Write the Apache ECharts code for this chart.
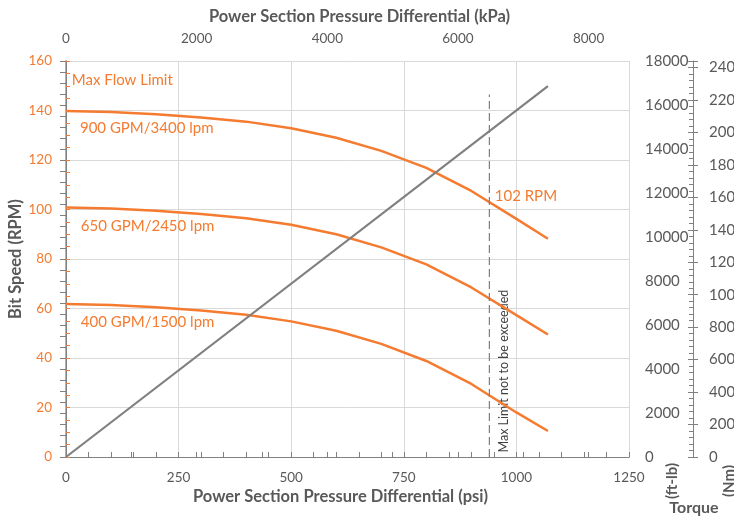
<!DOCTYPE html>
<html><head><meta charset="utf-8">
<script src="https://cdn.jsdelivr.net/npm/echarts@6/dist/echarts.min.js"></script>
<style>html,body{margin:0;padding:0;background:#fff}#c{width:734px;height:519px}</style>
</head><body><div id="c"></div>
<script>
// ---- data ----
const psi = [0,100,200,300,400,500,600,700,800,900,1000,1070];
const rpm900 = [139.8,139.4,138.5,137.2,135.5,132.8,129.0,123.7,116.8,107.5,96.2,88.2];
const rpm650 = [100.8,100.4,99.5,98.2,96.5,93.8,90.0,84.7,77.8,68.5,57.3,49.5];
const rpm400 = [61.8,61.4,60.5,59.2,57.5,54.8,51.0,45.7,38.8,29.5,18.0,10.5];
const torquePsi = [0,1070];
const torqueFtlb = [0,16860];
const maxLimitPsi = [940,940];
const maxLimitRpm = [0,146.5];
const curveNames = ['900 GPM/3400 lpm','650 GPM/2450 lpm','400 GPM/1500 lpm'];
const noteTexts = ['Max Flow Limit','900 GPM/3400 lpm','650 GPM/2450 lpm','400 GPM/1500 lpm','102 RPM'];
const noteAnchors = [[13,152.3],[31,132.9],[33,93.3],[33,54.5],[952,105.5]]; // psi, rpm
const limitText = 'Max Limit not to be exceeded';
const limitAnchor = [972,34.7];
const psiMax = 1250, rpmMax = 160, ftlbMax = 18000;
const KPA_PER_PSI = 6.894757, NM_PER_FTLB = 1.355818;

// ---- style ----
const ORANGE = '#F47B30', GRAY = '#808080', TXT = '#595959', GRID = '#d9d9d9';
const FONT = 'Lato';
const zip = (a,b) => a.map((v,i)=>[v,b[i]]);
const onStep = s => v => (Math.abs(v/s - Math.round(v/s)) < 1e-6 ? String(Math.round(v)) : '');
const plain = v => String(v);

const chart = echarts.init(document.getElementById('c'), null, {renderer:'canvas'});
const axLine = {show:true, lineStyle:{color:GRAY, width:1}};
const option = {
  animation:false,
  backgroundColor:'#fff',
  grid:{left:66, right:105, top:61, bottom:62, containLabel:false, outerBoundsMode:'none'},
  xAxis:[
    {type:'value', position:'bottom', min:0, max:psiMax, interval:250,
     name:'Power Section Pressure Differential (psi)', nameLocation:'middle', nameGap:31, nameMoveOverlap:false,
     nameTextStyle:{fontFamily:FONT, fontWeight:'bold', fontSize:16.5, color:TXT, padding:[0,14,0,0]},
     axisLine:axLine, axisTick:{show:true, inside:true, length:5, lineStyle:{color:GRAY}},
     minorTick:{show:true, splitNumber:5, length:5, lineStyle:{color:GRAY}},
     axisLabel:{fontFamily:FONT, fontSize:13.5, color:TXT, margin:14, formatter:plain},
     splitLine:{show:true, lineStyle:{color:GRID}}},
    {type:'value', position:'top', min:0, max:psiMax*KPA_PER_PSI, interval:2000,
     name:'Power Section Pressure Differential (kPa)', nameLocation:'middle', nameGap:36, nameMoveOverlap:false,
     nameTextStyle:{fontFamily:FONT, fontWeight:'bold', fontSize:16.5, color:TXT, padding:[0,0,0,24]},
     axisLine:axLine, axisTick:{show:true, inside:false, length:5, lineStyle:{color:GRAY}},
     minorTick:{show:true, splitNumber:2, length:5, lineStyle:{color:GRAY}},
     axisLabel:{fontFamily:FONT, fontSize:13.5, color:TXT, margin:15, formatter:onStep(2000)},
     splitLine:{show:false}}
  ],
  yAxis:[
    {type:'value', position:'left', min:0, max:rpmMax, interval:20,
     name:'Bit Speed (RPM)', nameLocation:'middle', nameGap:42, nameMoveOverlap:false,
     nameTextStyle:{fontFamily:FONT, fontWeight:'bold', fontSize:16.5, color:TXT},
     axisLine:{show:true, lineStyle:{color:ORANGE, width:1.5}},
     axisTick:{show:true, inside:true, length:4, lineStyle:{color:ORANGE}},
     minorTick:{show:true, splitNumber:4, length:4, lineStyle:{color:ORANGE}},
     axisLabel:{fontFamily:FONT, fontSize:13.5, color:ORANGE, margin:14, formatter:plain},
     splitLine:{show:true, lineStyle:{color:GRID}}},
    {type:'value', position:'right', min:0, max:ftlbMax, interval:2000,
     axisLine:axLine, axisTick:{show:true, inside:true, length:6, lineStyle:{color:GRAY}},
     minorTick:{show:true, splitNumber:4, length:6, lineStyle:{color:GRAY}},
     axisLabel:{fontFamily:FONT, fontSize:15, color:TXT, margin:16, formatter:plain},
     splitLine:{show:false}},
    {type:'value', position:'right', offset:64, min:0, max:ftlbMax*NM_PER_FTLB, interval:2000,
     axisLine:axLine, axisTick:{show:true, inside:true, length:5, lineStyle:{color:GRAY}},
     minorTick:{show:true, splitNumber:5, length:4, lineStyle:{color:GRAY}},
     axisLabel:{fontFamily:FONT, fontSize:15, color:TXT, margin:16, formatter:onStep(2000)},
     splitLine:{show:false}},
    {type:'value', position:'right', offset:64, min:0, max:ftlbMax*NM_PER_FTLB, interval:2000,
     axisLine:{show:false}, axisTick:{show:true, inside:false, length:5, lineStyle:{color:GRAY}},
     axisLabel:{show:false}, splitLine:{show:false}}
  ],
  series:[
    {name:curveNames[0], type:'line', xAxisIndex:0, yAxisIndex:0, data:zip(psi,rpm900), symbol:'none', smooth:false, lineStyle:{color:ORANGE, width:2.5}},
    {name:curveNames[1], type:'line', xAxisIndex:0, yAxisIndex:0, data:zip(psi,rpm650), symbol:'none', smooth:false, lineStyle:{color:ORANGE, width:2.5}},
    {name:curveNames[2], type:'line', xAxisIndex:0, yAxisIndex:0, data:zip(psi,rpm400), symbol:'none', smooth:false, lineStyle:{color:ORANGE, width:2.5}},
    {name:'Torque', type:'line', xAxisIndex:0, yAxisIndex:1, data:zip(torquePsi,torqueFtlb), symbol:'none', lineStyle:{color:GRAY, width:2.2}},
    {name:'Max Limit', type:'line', xAxisIndex:0, yAxisIndex:0, data:zip(maxLimitPsi,maxLimitRpm), symbol:'none', lineStyle:{color:GRAY, width:1.2, type:[8,4]}}
  ]
};
chart.setOption(option);

const graphics = [];
noteTexts.forEach((t,i)=>{
  const p = chart.convertToPixel({xAxisIndex:0, yAxisIndex:0}, noteAnchors[i]);
  graphics.push({type:'text', x:p[0], y:p[1], style:{text:t, fill:ORANGE, font:'15px '+FONT, align:'left', verticalAlign:'middle'}});
});
const lp = chart.convertToPixel({xAxisIndex:0, yAxisIndex:0}, limitAnchor);
graphics.push({type:'text', x:lp[0], y:lp[1], rotation:Math.PI/2, style:{text:limitText, fill:'#404040', font:'12.5px '+FONT, align:'center', verticalAlign:'middle'}});
graphics.push({type:'text', x:672, y:481, rotation:Math.PI/2, style:{text:'(ft-lb)', fill:TXT, font:'bold 15px '+FONT, align:'center', verticalAlign:'middle'}});
graphics.push({type:'text', x:729, y:481, rotation:Math.PI/2, style:{text:'(Nm)', fill:TXT, font:'bold 15px '+FONT, align:'center', verticalAlign:'middle'}});
graphics.push({type:'text', x:694, y:508, style:{text:'Torque', fill:TXT, font:'bold 16px '+FONT, align:'center', verticalAlign:'middle'}});
chart.setOption({graphic:graphics});
</script></body></html>
